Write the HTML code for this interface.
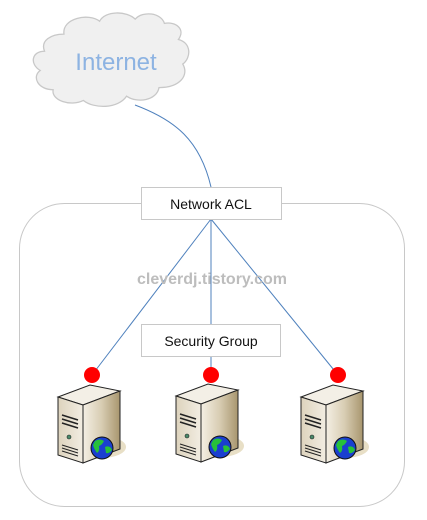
<!DOCTYPE html>
<html><head><style>html,body{margin:0;padding:0;background:#fff;}svg{display:block}</style></head>
<body>
<svg width="427" height="520" viewBox="0 0 427 520" xmlns="http://www.w3.org/2000/svg">
<defs>
<linearGradient id="side" x1="0" x2="1" y1="0" y2="0"><stop offset="0" stop-color="#f4efe4"/><stop offset="0.5" stop-color="#d8cdb3"/><stop offset="1" stop-color="#a8966e"/></linearGradient>
<linearGradient id="front" x1="0" x2="1"><stop offset="0" stop-color="#ddd3bd"/><stop offset="1" stop-color="#f2ede2"/></linearGradient>
<g id="srv">
<ellipse cx="44" cy="62" rx="24" ry="11" fill="#e8dfc6"/>
<polygon points="0,12 32,0 62,6 25,20" fill="#f3efe6" stroke="#222" stroke-width="1"/>
<polygon points="0,12 25,20 25,78 0,70" fill="url(#front)" stroke="#222" stroke-width="1"/>
<polygon points="25,20 62,6 62,64 25,78" fill="url(#side)" stroke="#222" stroke-width="1"/>
<path d="M4,30 L20,35 M4,34 L20,39 M4,38 L20,43" stroke="#222" stroke-width="1.5"/>
<circle cx="11" cy="52" r="2" fill="#4a8a6a" stroke="#222" stroke-width="0.6"/>
<path d="M4,60 L20,65 M4,63 L20,68 M4,66 L20,71" stroke="#222" stroke-width="1"/>
<circle cx="44" cy="63" r="11" fill="#1a3fd0" stroke="#111" stroke-width="1"/>
<path d="M37,56 q5,-3 9,0 q-2,4 -5,5 q1,5 -2,7 q-3,-4 -4,-8z M47,62 q5,-2 7,3 q-3,4 -6,3z" fill="#27c13a"/>
</g>
</defs>
<path d="M62,30 C60,15 85,10 95,18 C100,8 120,8 128,16 C135,8 152,10 155,20 C165,18 175,25 168,35 C180,38 180,52 172,58 C178,68 170,80 150,80 C148,92 130,95 120,88 C112,100 90,100 80,92 C68,98 50,92 52,82 C38,82 32,70 40,64 C30,58 32,46 44,46 C40,36 50,30 62,30 Z" transform="translate(-3,2) scale(1.08,1.07)" fill="#f0f0f0" stroke="#c8c8c8" stroke-width="1.2"/>
<text x="116" y="70" font-family="Liberation Sans, sans-serif" font-size="24" fill="#8db3e2" text-anchor="middle">Internet</text>
<path d="M135,105 C175,120 200,140 211,187" fill="none" stroke="#4f81bd" stroke-width="1"/>
<rect x="19.5" y="203.5" width="385" height="303" rx="45" fill="none" stroke="#c8c8c8" stroke-width="1"/>
<g stroke="#4f81bd" stroke-width="1">
<line x1="211" y1="219" x2="92" y2="375"/>
<line x1="211" y1="219" x2="211" y2="375"/>
<line x1="211" y1="219" x2="338" y2="375"/>
</g>
<rect x="141.5" y="187.5" width="140" height="32" fill="#fff" stroke="#c8c8c8"/>
<text x="211" y="209" font-family="Liberation Sans, sans-serif" font-size="14" fill="#111" text-anchor="middle">Network ACL</text>
<text x="212" y="284" font-family="Liberation Sans, sans-serif" font-size="16" font-weight="bold" fill="#bdbdbd" text-anchor="middle">cleverdj.tistory.com</text>
<rect x="141.5" y="324.5" width="139" height="32" fill="#fff" stroke="#c8c8c8"/>
<text x="211" y="346" font-family="Liberation Sans, sans-serif" font-size="14" fill="#111" text-anchor="middle">Security Group</text>
<use href="#srv" x="58" y="385"/>
<use href="#srv" x="176" y="384"/>
<use href="#srv" x="301" y="385"/>
<circle cx="92" cy="375" r="8" fill="#ff0000"/>
<circle cx="211" cy="375" r="8" fill="#ff0000"/>
<circle cx="338" cy="375" r="8" fill="#ff0000"/>
</svg>
</body></html>
